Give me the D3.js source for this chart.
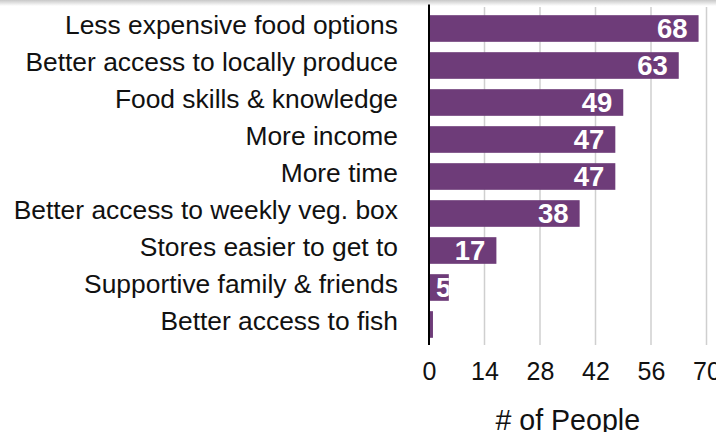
<!DOCTYPE html>
<html>
<head>
<meta charset="utf-8">
<script src="https://cdn.jsdelivr.net/npm/d3@7"></script>
<style>
  html, body { margin: 0; padding: 0; background: #fff; }
  svg { display: block; }
</style>
</head>
<body>
<div id="chart"></div>
<script>
// What would help people eat better — counts of respondents
const categories = [
  "Less expensive food options",
  "Better access to locally produce",
  "Food skills & knowledge",
  "More income",
  "More time",
  "Better access to weekly veg. box",
  "Stores easier to get to",
  "Supportive family & friends",
  "Better access to fish"
];
const counts = [68, 63, 49, 47, 47, 38, 17, 5, 1];
const tickValues = [0, 14, 28, 42, 56, 70];
const axisTitle = "# of People";

const W = 716, H = 432;
const font = "'Liberation Sans', Arial, Helvetica, sans-serif";
const barColor = "#6e3c79";

const svg = d3.select("#chart").append("svg")
  .attr("width", W).attr("height", H);

// soft shade along the top edge
const defs = svg.append("defs");
const grad = defs.append("linearGradient")
  .attr("id", "topShade").attr("x1", 0).attr("y1", 0).attr("x2", 0).attr("y2", 1);
grad.append("stop").attr("offset", "0%").attr("stop-color", "#c8c8c8");
grad.append("stop").attr("offset", "100%").attr("stop-color", "#ffffff");
svg.append("rect").attr("x", 0).attr("y", 0).attr("width", W).attr("height", 6)
  .attr("fill", "url(#topShade)");

const x = d3.scaleLinear().domain([0, 70]).range([429, 706.5]);
const y = d3.scaleBand().domain(categories).range([10, 343])
  .paddingInner(0.28).paddingOuter(0.14);

// vertical gridlines
svg.append("g").selectAll("line")
  .data(tickValues.filter(d => d > 0))
  .join("line")
  .attr("x1", d => x(d)).attr("x2", d => x(d))
  .attr("y1", 7).attr("y2", 345)
  .attr("stroke", "#cfcfcf").attr("stroke-width", 1.5);

// bars
const rows = svg.append("g").selectAll("g")
  .data(categories.map((c, i) => ({ cat: c, val: counts[i], i })))
  .join("g");

rows.append("clipPath")
  .attr("id", d => "clip" + d.i)
  .append("rect")
  .attr("x", x(0)).attr("y", d => y(d.cat))
  .attr("width", d => x(d.val) - x(0)).attr("height", y.bandwidth());

rows.append("rect")
  .attr("x", x(0)).attr("y", d => y(d.cat))
  .attr("width", d => x(d.val) - x(0)).attr("height", y.bandwidth())
  .attr("fill", barColor);

// value labels inside the bars, right aligned, clipped to the bar
rows.append("text")
  .attr("clip-path", d => `url(#clip${d.i})`)
  .attr("font-family", font).attr("font-weight", "bold").attr("font-size", 27.5)
  .attr("fill", "#fff")
  .attr("y", d => y(d.cat) + y.bandwidth() / 2 + 9.2)
  .text(d => d.val)
  .each(function (d) {
    const w = this.getComputedTextLength();
    const right = Math.max(x(d.val) - 11, x(0) + 7 + w);
    d3.select(this).attr("x", right).attr("text-anchor", "end");
  });

// category labels
svg.append("g").selectAll("text")
  .data(categories)
  .join("text")
  .attr("x", 398)
  .attr("y", d => y(d) + y.bandwidth() / 2 + 5.8)
  .attr("text-anchor", "end")
  .attr("font-family", font).attr("font-size", 26.4)
  .attr("fill", "#111")
  .text(d => d);

// axis line at zero
svg.append("line")
  .attr("x1", x(0)).attr("x2", x(0)).attr("y1", 4.5).attr("y2", 345)
  .attr("stroke", "#000").attr("stroke-width", 2);

// x tick labels
const xAxis = d3.axisBottom(x).tickValues(tickValues).tickSize(0).tickPadding(0);
const ax = svg.append("g").attr("transform", "translate(0,361)").call(xAxis);
ax.select(".domain").remove();
ax.selectAll("text")
  .attr("font-family", font).attr("font-size", 25).attr("fill", "#111")
  .attr("dy", "0.75em");

// axis title
svg.append("text")
  .attr("x", (x(0) + x(70)) / 2).attr("y", 430)
  .attr("text-anchor", "middle")
  .attr("font-family", font).attr("font-size", 28.6).attr("fill", "#111")
  .text(axisTitle);
</script>
</body>
</html>
